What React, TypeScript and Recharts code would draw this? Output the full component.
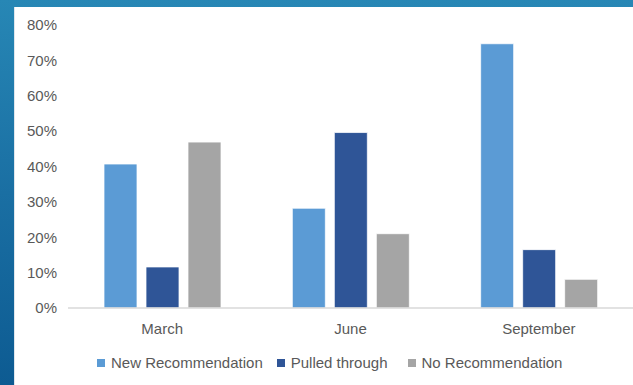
import { Bar, BarChart, XAxis, YAxis } from "recharts";

const months = ["March", "June", "September"];
const newRecommendation = [40.7, 28.2, 74.7];
const pulledThrough = [11.6, 49.6, 16.5];
const noRecommendation = [46.9, 21.0, 8.1];
const yTicks = [0, 10, 20, 30, 40, 50, 60, 70, 80];

const seriesNames = ["New Recommendation", "Pulled through", "No Recommendation"];
const seriesColors = ["#5b9bd5", "#2f5597", "#a5a5a5"];

const data = months.map((month, i) => ({
  month,
  newRec: newRecommendation[i],
  pulled: pulledThrough[i],
  noRec: noRecommendation[i],
}));

const FONT = '"Liberation Sans", Arial, Helvetica, sans-serif';
const TEXT = "#595959";

export default function App() {
  return (
    <div
      style={{
        position: "absolute",
        left: 0,
        top: 0,
        width: 633,
        height: 385,
        overflow: "hidden",
        background: "linear-gradient(180deg, #2787b5 0%, #1a6fa3 50%, #0d5b92 100%)",
        fontFamily: FONT,
      }}
    >
      {/* white slide panel */}
      <div
        style={{
          position: "absolute",
          left: 14,
          top: 7,
          width: 619,
          height: 378,
          background: "#ffffff",
          borderLeft: "1px solid #dfe6ec",
          boxSizing: "border-box",
        }}
      />
      <div style={{ position: "absolute", left: 0, top: 0 }}>
        <BarChart
          width={633}
          height={385}
          data={data}
          margin={{ top: 25, right: 0, bottom: 0, left: 0 }}
          barGap={9}
        >
          <XAxis
            dataKey="month"
            height={77}
            axisLine={{ stroke: "#d9d9d9", strokeWidth: 1.5 }}
            tickLine={false}
            tickSize={0}
            tickMargin={15}
            tick={{ fill: TEXT, fontSize: 15, fontFamily: FONT }}
          />
          <YAxis
            width={68}
            domain={[0, 80]}
            ticks={yTicks}
            axisLine={false}
            tickLine={false}
            tickSize={0}
            tickMargin={11}
            tickFormatter={(v) => `${v}%`}
            tick={{ fill: TEXT, fontSize: 15, fontFamily: FONT }}
          />
          <Bar
            dataKey="newRec"
            name={seriesNames[0]}
            fill={seriesColors[0]}
            stroke="#ffffff"
            strokeWidth={0.75}
            barSize={33}
            isAnimationActive={false}
          />
          <Bar
            dataKey="pulled"
            name={seriesNames[1]}
            fill={seriesColors[1]}
            stroke="#ffffff"
            strokeWidth={0.75}
            barSize={33}
            isAnimationActive={false}
          />
          <Bar
            dataKey="noRec"
            name={seriesNames[2]}
            fill={seriesColors[2]}
            stroke="#ffffff"
            strokeWidth={0.75}
            barSize={33}
            isAnimationActive={false}
          />
        </BarChart>
      </div>
      {/* legend */}
      <div
        style={{
          position: "absolute",
          left: 97,
          top: 354,
          display: "flex",
          alignItems: "center",
          fontSize: 15,
          color: TEXT,
          whiteSpace: "nowrap",
        }}
      >
        {seriesNames.map((name, i) => (
          <div
            key={name}
            style={{
              display: "flex",
              alignItems: "center",
              marginRight: i === 0 ? 14 : 20,
            }}
          >
            <span
              style={{
                display: "inline-block",
                width: 8,
                height: 8,
                background: seriesColors[i],
                marginRight: 6,
              }}
            />
            <span>{name}</span>
          </div>
        ))}
      </div>
    </div>
  );
}
